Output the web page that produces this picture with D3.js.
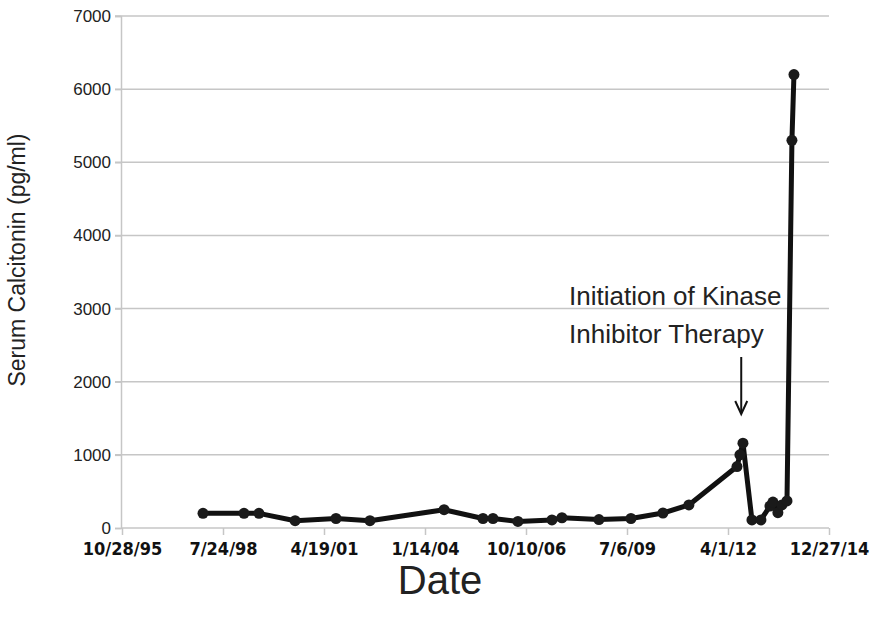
<!DOCTYPE html>
<html><head><meta charset="utf-8">
<script src="https://cdn.jsdelivr.net/npm/d3@7"></script>
<style>body{margin:0;background:#fff}svg{display:block}</style>
</head><body>
<script>
const dates = ["1998-01-07","1999-02-17","1999-07-15","2000-07-07","2001-08-16","2002-07-18","2004-07-21","2005-08-10","2005-11-17","2006-07-22","2007-06-24","2007-10-01","2008-10-01","2009-08-14","2010-06-27","2011-03-11","2012-06-29","2012-07-28","2012-08-27","2012-11-24","2013-02-21","2013-05-21","2013-06-20","2013-08-08","2013-09-17","2013-11-06","2013-12-25","2014-01-14"];
const calcitonin = [200,200,200,100,130,100,250,130,130,90,110,140,115,130,205,315,840,1000,1160,110,110,300,355,210,315,370,5300,6200];
const yTicks = [0,1000,2000,3000,4000,5000,6000,7000];
const xTickLabels = ["10/28/95","7/24/98","4/19/01","1/14/04","10/10/06","7/6/09","4/1/12","12/27/14"];
const annotation = ["Initiation of Kinase","Inhibitor Therapy"];
const arrowDate = "2012-08-10";

const W=871,H=619;
const parse=d3.timeParse("%Y-%m-%d");
const start=new Date(1995,9,28), end=new Date(2014,11,27);
const x=d3.scaleTime().domain([start,end]).range([122,829]);
const y=d3.scaleLinear().domain([0,7000]).range([528,16]);
const svg=d3.select("body").append("svg").attr("width",W).attr("height",H);

// gridlines
svg.append("g").selectAll("line").data(yTicks.slice(1)).join("line")
 .attr("x1",115).attr("x2",829).attr("y1",d=>y(d)).attr("y2",d=>y(d))
 .attr("stroke","#c6c6c6").attr("stroke-width",1.5);
// y axis
const ya=svg.append("g").attr("transform","translate(121,0)")
 .call(d3.axisLeft(y).tickValues(yTicks).tickSize(6).tickPadding(4).tickFormat(d3.format("d")));
ya.select(".domain").attr("stroke","#c6c6c6").attr("stroke-width",1.5);
ya.selectAll(".tick line").attr("stroke","#c6c6c6").attr("stroke-width",1.5);
ya.selectAll("text").attr("font-family","Liberation Sans, Arial, sans-serif").attr("font-size",17).attr("fill","#222");

// x axis
const xTickDates=xTickLabels.map(s=>{const p=s.split("/");let yr=+p[2];yr+=yr>50?1900:2000;return new Date(yr,+p[0]-1,+p[1]);});
const xa=svg.append("g").attr("transform","translate(0,528)")
 .call(d3.axisBottom(x).tickValues(xTickDates).tickSize(7).tickPadding(7).tickFormat((d,i)=>xTickLabels[i]));
xa.select(".domain").attr("stroke","#c6c6c6").attr("stroke-width",1.5).attr("d","M122,0H829");
xa.selectAll(".tick line").attr("stroke","#c6c6c6").attr("stroke-width",1.5);
xa.selectAll("text").attr("font-family","Liberation Sans Narrow, DejaVu Sans Condensed, sans-serif").attr("font-weight","bold").attr("font-size",18).attr("fill","#111");

// axis titles
svg.append("text").attr("transform","translate(25,260) rotate(-90)").attr("text-anchor","middle")
 .attr("font-family","Liberation Sans, Arial, sans-serif").attr("font-size",23).attr("fill","#222").text("Serum Calcitonin (pg/ml)");
svg.append("text").attr("x",440).attr("y",594).attr("text-anchor","middle")
 .attr("font-family","Liberation Sans, Arial, sans-serif").attr("font-size",40).attr("fill","#222").text("Date");

// data
const data=dates.map((d,i)=>({date:parse(d),v:calcitonin[i]}));
svg.append("path").datum(data).attr("fill","none").attr("stroke","#111").attr("stroke-width",5).attr("stroke-linejoin","round")
 .attr("d",d3.line().x(d=>x(d.date)).y(d=>y(d.v)));
svg.append("g").selectAll("circle").data(data).join("circle")
 .attr("cx",d=>x(d.date)).attr("cy",d=>y(d.v)).attr("r",5.5).attr("fill","#1a1a1a");

// annotation
const at=svg.append("text").attr("font-family","Liberation Sans, Arial, sans-serif").attr("font-size",26).attr("fill","#222");
annotation.forEach((t,i)=>at.append("tspan").attr("x",569).attr("y",305+i*38).text(t));
const ax=x(parse(arrowDate));
svg.append("line").attr("x1",ax).attr("x2",ax).attr("y1",357).attr("y2",413).attr("stroke","#111").attr("stroke-width",2);
svg.append("path").attr("d",`M${ax-6},401L${ax},414L${ax+6},401`).attr("fill","none").attr("stroke","#111").attr("stroke-width",2);
</script>
</body></html>
